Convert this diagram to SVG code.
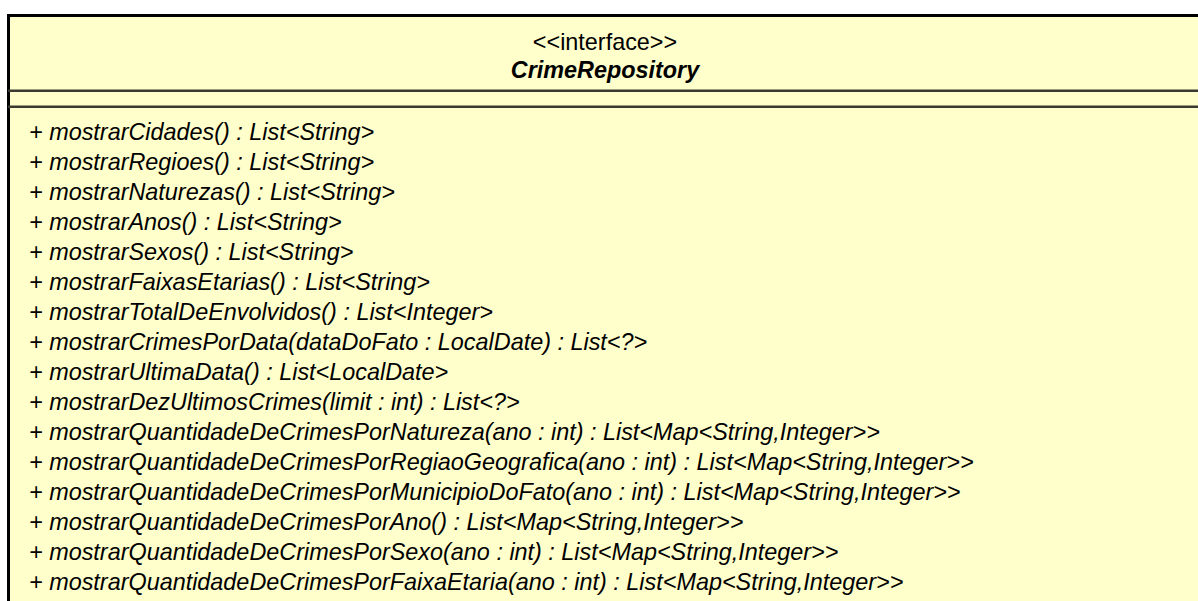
<svg xmlns="http://www.w3.org/2000/svg" width="1198" height="601" viewBox="0 0 1198 601">
  <style>
    .box { fill: #FFFFCC; stroke: #000000; stroke-width: 3; }
    .sep { stroke: #3A3A32; stroke-width: 2.5; }
    .txt { font-family: "Liberation Sans", Arial, sans-serif; font-size: 23.4px; fill: #000000; }
    .op { font-style: italic; }
    .name { font-style: italic; font-weight: bold; }
  </style>
  <rect width="1198" height="601" fill="#FFFFFF"/>
  <g id="CrimeRepository">
    <rect class="box" x="8.5" y="15.5" width="1200" height="600"/>
    <line class="sep" x1="8" y1="90.8" x2="1198" y2="90.8"/>
    <line class="sep" x1="8" y1="106.8" x2="1198" y2="106.8"/>
    <text class="txt" x="605" y="50" text-anchor="middle">&lt;&lt;interface&gt;&gt;</text>
    <text class="txt name" x="605" y="78" text-anchor="middle">CrimeRepository</text>
    <g class="txt op">
      <text x="29" y="140">+ mostrarCidades() : List&lt;String&gt;</text>
      <text x="29" y="170">+ mostrarRegioes() : List&lt;String&gt;</text>
      <text x="29" y="200">+ mostrarNaturezas() : List&lt;String&gt;</text>
      <text x="29" y="230">+ mostrarAnos() : List&lt;String&gt;</text>
      <text x="29" y="260">+ mostrarSexos() : List&lt;String&gt;</text>
      <text x="29" y="290">+ mostrarFaixasEtarias() : List&lt;String&gt;</text>
      <text x="29" y="320">+ mostrarTotalDeEnvolvidos() : List&lt;Integer&gt;</text>
      <text x="29" y="350">+ mostrarCrimesPorData(dataDoFato : LocalDate) : List&lt;?&gt;</text>
      <text x="29" y="380">+ mostrarUltimaData() : List&lt;LocalDate&gt;</text>
      <text x="29" y="410">+ mostrarDezUltimosCrimes(limit : int) : List&lt;?&gt;</text>
      <text x="29" y="440">+ mostrarQuantidadeDeCrimesPorNatureza(ano : int) : List&lt;Map&lt;String,Integer&gt;&gt;</text>
      <text x="29" y="470">+ mostrarQuantidadeDeCrimesPorRegiaoGeografica(ano : int) : List&lt;Map&lt;String,Integer&gt;&gt;</text>
      <text x="29" y="500">+ mostrarQuantidadeDeCrimesPorMunicipioDoFato(ano : int) : List&lt;Map&lt;String,Integer&gt;&gt;</text>
      <text x="29" y="530">+ mostrarQuantidadeDeCrimesPorAno() : List&lt;Map&lt;String,Integer&gt;&gt;</text>
      <text x="29" y="560">+ mostrarQuantidadeDeCrimesPorSexo(ano : int) : List&lt;Map&lt;String,Integer&gt;&gt;</text>
      <text x="29" y="590">+ mostrarQuantidadeDeCrimesPorFaixaEtaria(ano : int) : List&lt;Map&lt;String,Integer&gt;&gt;</text>
    </g>
  </g>
</svg>
